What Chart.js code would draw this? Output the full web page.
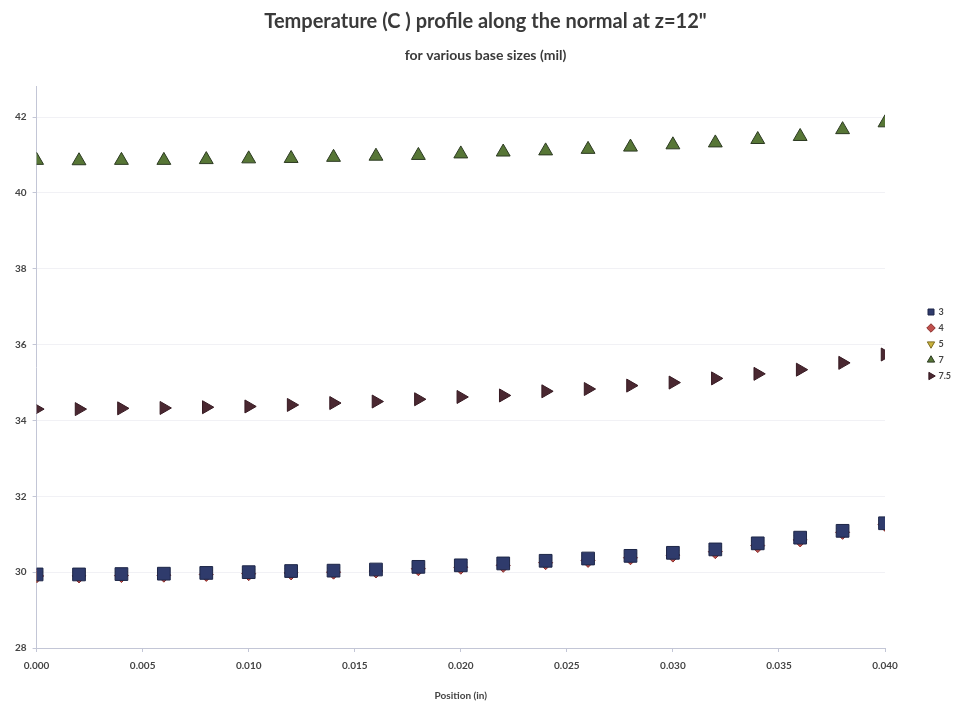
<!DOCTYPE html>
<html>
<head>
<meta charset="utf-8">
<script src="https://cdn.jsdelivr.net/npm/chart.js@4/dist/chart.umd.min.js"></script>
<style>
    html, body { margin: 0; padding: 0; background: #ffffff; }
    #wrap { width: 962px; height: 706px; }
</style>
</head>
<body>
<div id="wrap"><canvas id="profileChart"></canvas></div>
<script>
// Temperature profile along the normal at z=12"

const positions = [0.000, 0.002, 0.004, 0.006, 0.008, 0.010, 0.012, 0.014, 0.016, 0.018, 0.020,
    0.022, 0.024, 0.026, 0.028, 0.030, 0.032, 0.034, 0.036, 0.038, 0.040];

const baseSizes = ['3', '4', '5', '7', '7.5'];

const temp3 = [29.94, 29.94, 29.95, 29.96, 29.98, 30.00, 30.03, 30.04, 30.07, 30.14, 30.18,
    30.23, 30.30, 30.36, 30.43, 30.51, 30.60, 30.76, 30.91, 31.09, 31.29];
const temp4 = [29.90, 29.90, 29.91, 29.92, 29.94, 29.96, 29.98, 30.00, 30.03, 30.09, 30.13,
    30.18, 30.25, 30.31, 30.38, 30.45, 30.54, 30.70, 30.85, 31.05, 31.26];
const temp5 = [29.92, 29.92, 29.93, 29.94, 29.96, 29.98, 30.01, 30.02, 30.05, 30.12, 30.16,
    30.21, 30.28, 30.34, 30.41, 30.49, 30.58, 30.73, 30.88, 31.07, 31.27];
const temp7 = [40.86, 40.85, 40.86, 40.86, 40.88, 40.90, 40.91, 40.94, 40.97, 40.99, 41.03,
    41.08, 41.11, 41.15, 41.21, 41.27, 41.32, 41.41, 41.49, 41.67, 41.85];
const temp75 = [34.30, 34.30, 34.32, 34.33, 34.35, 34.37, 34.41, 34.46, 34.50, 34.56, 34.62,
    34.66, 34.77, 34.83, 34.92, 35.00, 35.11, 35.23, 35.34, 35.52, 35.74];

const yTicks = [28, 30, 32, 34, 36, 38, 40, 42];

const toPoints = (vals) => positions.map((x, i) => ({ x: x, y: vals[i] }));

const makeSet = (label, vals, style, radius, rotation, fill, stroke) => ({
    label: label,
    data: toPoints(vals),
    pointStyle: style,
    pointRadius: radius,
    pointHoverRadius: radius,
    pointRotation: rotation,
    backgroundColor: fill,
    borderColor: stroke,
    borderWidth: 1,
    showLine: false
});

const datasets = [
    makeSet(baseSizes[0], temp3, 'rect', 9, 0, '#2f3b6c', '#1e2748'),
    makeSet(baseSizes[1], temp4, 'rectRot', 7, 0, '#c0504d', '#8a2f2c'),
    makeSet(baseSizes[2], temp5, 'triangle', 7, 180, '#c9b23c', '#7d6c22'),
    makeSet(baseSizes[3], temp7, 'triangle', 8, 0, '#577636', '#2c3a22'),
    makeSet(baseSizes[4], temp75, 'triangle', 7.5, 90, '#4a2831', '#361a22')
];

// legend box is wide (keeps the gap after the plot), items sit near the right edge
const legendShift = {
    id: 'legendShift',
    afterInit(chart) {
        const lg = chart.legend;
        const fit = lg.fit;
        lg.fit = function () {
            fit.call(this);
            this.width = 77;
        };
    },
    afterLayout(chart) {
        const lg = chart.legend;
        lg.left += 36;
        lg.right += 36;
        lg.top -= 9;
        lg.bottom -= 9;
    }
};

const axisColor = '#c3c6d6';
const tickFont = { family: 'Lato', size: 10, weight: 'bold' };

var ctx = document.getElementById('profileChart');

var profileChart = new Chart(ctx, {
    type: 'scatter',
    data: { datasets: datasets },
    plugins: [legendShift],
    options: {
        responsive: true,
        maintainAspectRatio: false,
        animation: false,
        layout: { padding: { left: 9, right: 0, top: 0, bottom: 0 } },
        plugins: {
            title: {
                display: true,
                text: 'Temperature (C ) profile along the normal at z=12"',
                color: '#3a3a3a',
                font: { family: 'Lato', size: 20, weight: 'bold' },
                padding: { top: 10, bottom: 4 }
            },
            subtitle: {
                display: true,
                text: 'for various base sizes (mil)',
                color: '#3a3a3a',
                font: { family: 'Lato', size: 14, weight: 'bold' },
                padding: { top: 9, bottom: 23 }
            },
            legend: {
                display: true,
                position: 'right',
                labels: {
                    usePointStyle: true,
                    boxWidth: 6,
                    boxHeight: 6,
                    padding: 7,
                    color: '#444',
                    font: { family: 'Lato', size: 9, weight: 'bold' }
                }
            },
            tooltip: { enabled: false }
        },
        scales: {
            x: {
                type: 'linear',
                min: 0,
                max: 0.04,
                ticks: {
                    stepSize: 0.005,
                    color: '#444',
                    font: tickFont,
                    padding: 8,
                    maxRotation: 0,
                    callback: (v) => v.toFixed(3)
                },
                grid: { drawOnChartArea: false, color: axisColor, tickLength: 4 },
                border: { color: axisColor },
                title: {
                    display: true,
                    text: 'Position (in)',
                    color: '#444',
                    font: { family: 'Lato', size: 10, weight: 'bold' },
                    padding: { top: 10, bottom: 4 }
                }
            },
            y: {
                min: 28,
                max: 42.8,
                afterBuildTicks: (scale) => {
                    scale.ticks = yTicks.map(v => ({ value: v }));
                },
                ticks: {
                    color: '#444',
                    font: tickFont,
                    padding: 6
                },
                grid: {
                    color: '#f1f1f5',
                    tickColor: axisColor,
                    tickLength: 4
                },
                border: { color: axisColor }
            }
        }
    }
});
</script>
</body>
</html>
